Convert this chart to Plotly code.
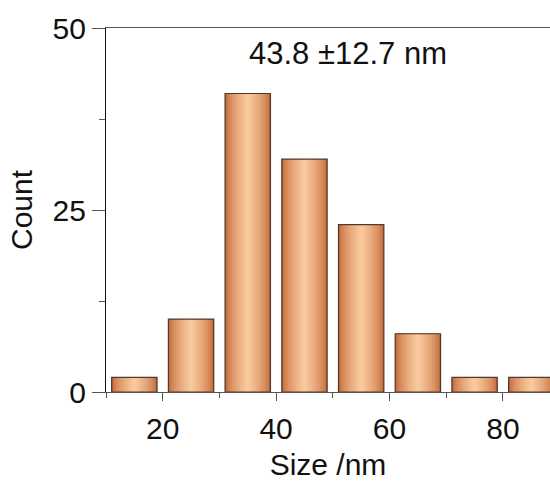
import plotly.graph_objects as go

# Particle size histogram (10 nm bins)
bin_centers = [15, 25, 35, 45, 55, 65, 75, 85]
counts = [2, 10, 41, 32, 23, 8, 2, 2]
bar_width = 8
x_tick_vals = [20, 40, 60, 80]
x_minor_vals = [10, 30, 50, 70]
y_tick_vals = [0, 25, 50]
stats_label = "43.8 \u00b112.7 nm"

FONT = "Liberation Sans, Arial, sans-serif"
EDGE = (194, 104, 52)
CENTER = (250, 201, 158)


def blend(t):
    c = [round(a + (b - a) * t) for a, b in zip(EDGE, CENTER)]
    return f"rgb({c[0]},{c[1]},{c[2]})"


fig = go.Figure()

# copper shading: stacked bars of shrinking width, lighter toward the middle
n_layers = 16
for k in range(n_layers):
    frac = 1 - k / n_layers
    t = (k / (n_layers - 1)) ** 0.65
    fig.add_trace(go.Bar(
        x=bin_centers, y=counts, width=bar_width * frac,
        marker=dict(color=blend(t), line=dict(width=0)),
        hoverinfo="skip", showlegend=False,
    ))

# bar outlines
fig.add_trace(go.Bar(
    x=bin_centers, y=counts, width=bar_width,
    marker=dict(color="rgba(0,0,0,0)", line=dict(color="#4a3a30", width=1.2)),
    showlegend=False,
))

fig.add_annotation(
    x=0.544, xref="paper", y=0.931, yref="paper",
    text=stats_label, showarrow=False,
    font=dict(family=FONT, size=31, color="#111"),
    xanchor="center", yanchor="middle",
)

fig.update_layout(
    width=550, height=481,
    barmode="overlay",
    plot_bgcolor="white", paper_bgcolor="white",
    margin=dict(l=106, r=0, t=28, b=89),
    font=dict(family=FONT, size=30, color="#111"),
    xaxis=dict(
        range=[10, 88.3],
        showline=True, linecolor="#555", linewidth=1.3, mirror=True,
        showgrid=False, zeroline=False,
        tickmode="array", tickvals=x_tick_vals,
        ticks="outside", ticklen=8, tickcolor="#555", tickwidth=1.3,
        minor=dict(tickvals=x_minor_vals, ticks="outside", ticklen=5,
                   tickcolor="#555", tickwidth=1.3),
        ticklabelstandoff=2,
        title=dict(text="Size /nm", standoff=10, font=dict(size=30)),
        tickfont=dict(size=30),
    ),
    yaxis=dict(
        range=[0, 50],
        showline=True, linecolor="#111", linewidth=1.3,
        showgrid=False, zeroline=False,
        tickmode="array", tickvals=y_tick_vals,
        ticks="outside", ticklen=13, tickcolor="#555", tickwidth=1.3,
        minor=dict(dtick=12.5, ticks="outside", ticklen=6,
                   tickcolor="#555", tickwidth=1.3),
        title=dict(text="Count", standoff=10, font=dict(size=30)),
        tickfont=dict(size=30),
    ),
)

fig.write_html("out.html")
